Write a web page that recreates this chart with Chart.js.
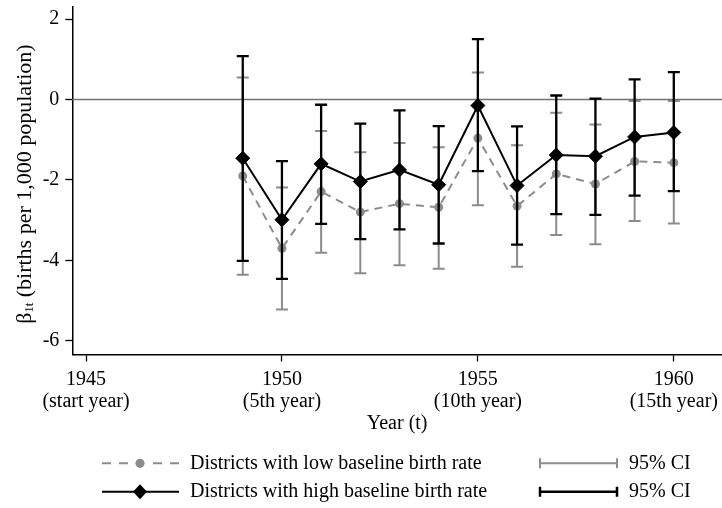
<!DOCTYPE html>
<html>
<head>
<meta charset="utf-8">
<script src="https://cdn.jsdelivr.net/npm/chart.js@4.4.0/dist/chart.umd.min.js"></script>
<style>
  html, body { margin: 0; padding: 0; background: #fff; }
  #wrap { width: 722px; height: 508px; }
</style>
</head>
<body>
<div id="wrap"><canvas id="chart" width="722" height="508"></canvas></div>
<script>
// Data
const years = [1949, 1950, 1951, 1952, 1953, 1954, 1955, 1956, 1957, 1958, 1959, 1960];

const highEst = [-1.46, -2.99, -1.60, -2.04, -1.75, -2.12, -0.15, -2.14, -1.38, -1.41, -0.93, -0.82];
const highLow = [-4.01, -4.46, -3.09, -3.47, -3.23, -3.58, -1.78, -3.61, -2.85, -2.87, -2.39, -2.28];
const highUp  = [ 1.08, -1.53, -0.13, -0.60, -0.27, -0.66,  1.50, -0.67,  0.10,  0.02,  0.50,  0.68];

const lowEst = [-1.90, -3.70, -2.29, -2.80, -2.59, -2.68, -0.96, -2.65, -1.85, -2.10, -1.54, -1.57];
const lowLow = [-4.36, -5.22, -3.81, -4.32, -4.12, -4.21, -2.63, -4.16, -3.37, -3.60, -3.02, -3.08];
const lowUp  = [ 0.55, -2.19, -0.78, -1.31, -1.08, -1.19,  0.67, -1.14, -0.33, -0.62, -0.04, -0.04];

const xTicks = [1945, 1950, 1955, 1960];
const xTickNotes = ["(start year)", "(5th year)", "(10th year)", "(15th year)"];
const yTicks = [-6, -4, -2, 0, 2];

const labelHigh = "Districts with high baseline birth rate";
const labelLow = "Districts with low baseline birth rate";

const serif = "'Liberation Serif', 'Times New Roman', Times, serif";
const grey = "#8c8c8c";

// CI bars per dataset index (0 = high, 1 = low)
const ciSets = [
  { lo: highLow, hi: highUp, color: "#000", width: 2.3 },
  { lo: lowLow, hi: lowUp, color: grey, width: 2 }
];

function drawCI(ctx, x, y1, y2, cap) {
  ctx.beginPath();
  ctx.moveTo(x, y1); ctx.lineTo(x, y2);
  ctx.moveTo(x - cap, y1); ctx.lineTo(x + cap, y1);
  ctx.moveTo(x - cap, y2); ctx.lineTo(x + cap, y2);
  ctx.stroke();
}

const extras = {
  id: "extras",
  beforeDatasetsDraw(chart) {
    // zero reference line
    const { ctx, chartArea, scales } = chart;
    const y0 = scales.y.getPixelForValue(0);
    ctx.save();
    ctx.strokeStyle = "#707070";
    ctx.lineWidth = 1.6;
    ctx.beginPath();
    ctx.moveTo(chartArea.left, y0);
    ctx.lineTo(chartArea.right, y0);
    ctx.stroke();
    ctx.restore();
  },
  beforeDatasetDraw(chart, args) {
    const ci = ciSets[args.index];
    const { ctx, scales } = chart;
    ctx.save();
    ctx.strokeStyle = ci.color;
    ctx.lineWidth = ci.width;
    years.forEach((yr, i) => {
      drawCI(ctx, scales.x.getPixelForValue(yr),
        scales.y.getPixelForValue(ci.lo[i]), scales.y.getPixelForValue(ci.hi[i]), 6);
    });
    ctx.restore();
  },
  afterDraw(chart) {
    const { ctx, chartArea } = chart;
    ctx.save();
    ctx.fillStyle = "#000";

    // y axis title with subscript
    ctx.translate(25, 184);
    ctx.rotate(-Math.PI / 2);
    ctx.textBaseline = "middle";
    const main = "22px " + serif, sub = "12.5px " + serif;
    const rest = " (births per 1,000 population)";
    ctx.font = main;
    const wBeta = ctx.measureText("β").width;
    const wRest = ctx.measureText(rest).width;
    ctx.font = sub;
    const wSub = ctx.measureText("1t").width;
    let tx = -(wBeta + wSub + wRest) / 2;
    ctx.font = main;
    ctx.textAlign = "left";
    ctx.fillText("β", tx, 0);
    tx += wBeta;
    ctx.font = sub;
    ctx.fillText("1t", tx, 5);
    tx += wSub;
    ctx.font = main;
    ctx.fillText(rest, tx, 0);
    ctx.setTransform(1, 0, 0, 1, 0, 0);

    // x axis title
    ctx.font = "20px " + serif;
    ctx.textAlign = "center";
    ctx.fillText("Year (t)", (chartArea.left + chartArea.right) / 2, 424);

    // legend
    const r1 = 463.3, r2 = 491.7;
    ctx.lineCap = "butt";
    ctx.strokeStyle = grey;
    ctx.lineWidth = 2;
    ctx.setLineDash([9, 8]);
    ctx.beginPath();
    ctx.moveTo(102, r1); ctx.lineTo(128, r1);
    ctx.moveTo(179, r1); ctx.lineTo(152, r1);
    ctx.stroke();
    ctx.setLineDash([]);
    ctx.fillStyle = grey;
    ctx.beginPath();
    ctx.arc(140, r1, 4.6, 0, Math.PI * 2);
    ctx.fill();

    ctx.strokeStyle = "#000";
    ctx.beginPath();
    ctx.moveTo(102, r2); ctx.lineTo(179, r2);
    ctx.stroke();
    ctx.fillStyle = "#000";
    ctx.beginPath();
    ctx.moveTo(133, r2); ctx.lineTo(140, r2 - 7.5); ctx.lineTo(147, r2); ctx.lineTo(140, r2 + 7.5);
    ctx.closePath();
    ctx.fill();

    ctx.textAlign = "left";
    ctx.textBaseline = "middle";
    ctx.font = "20px " + serif;
    ctx.fillText(labelLow, 190, r1);
    ctx.fillText(labelHigh, 190, r2);

    // CI legend samples
    ctx.strokeStyle = grey;
    ctx.lineWidth = 2;
    ctx.beginPath();
    ctx.moveTo(539, r1); ctx.lineTo(618, r1);
    ctx.moveTo(540, r1 - 5); ctx.lineTo(540, r1 + 5);
    ctx.moveTo(617, r1 - 5); ctx.lineTo(617, r1 + 5);
    ctx.stroke();
    ctx.strokeStyle = "#000";
    ctx.lineWidth = 2.5;
    ctx.beginPath();
    ctx.moveTo(539, r2); ctx.lineTo(618, r2);
    ctx.moveTo(540, r2 - 5); ctx.lineTo(540, r2 + 5);
    ctx.moveTo(617, r2 - 5); ctx.lineTo(617, r2 + 5);
    ctx.stroke();
    ctx.fillText("95% CI", 629, r1);
    ctx.fillText("95% CI", 629, r2);
    ctx.restore();
  }
};

const chart = new Chart(document.getElementById("chart").getContext("2d"), {
  type: "line",
  data: {
    datasets: [
      {
        label: labelHigh,
        data: years.map((yr, i) => ({ x: yr, y: highEst[i] })),
        borderColor: "#000",
        borderWidth: 2,
        backgroundColor: "#000",
        pointStyle: "rectRot",
        pointRadius: 7,
        pointBorderWidth: 1,
        tension: 0
      },
      {
        label: labelLow,
        data: years.map((yr, i) => ({ x: yr, y: lowEst[i] })),
        borderColor: grey,
        borderWidth: 2,
        borderDash: [8, 6],
        backgroundColor: grey,
        pointBorderColor: grey,
        pointStyle: "circle",
        pointRadius: 4.5,
        pointBorderWidth: 0,
        tension: 0
      }
    ]
  },
  options: {
    responsive: false,
    animation: false,
    events: [],
    layout: { autoPadding: false, padding: { top: 7, right: 0, bottom: 0, left: 0 } },
    plugins: { legend: { display: false }, tooltip: { enabled: false } },
    scales: {
      x: {
        type: "linear",
        min: 1944.65,
        max: 1961.23,
        afterBuildTicks: s => { s.ticks = xTicks.map(v => ({ value: v })); },
        afterFit: s => { s.height = 508 - 354.5; s.paddingLeft = 0; s.paddingRight = 0; },
        grid: { drawOnChartArea: false, tickLength: 7, tickColor: "#000", tickWidth: 1.3 },
        border: { color: "#000", width: 1.5 },
        ticks: {
          color: "#000",
          font: { family: serif, size: 20, lineHeight: 1.1 },
          padding: 7,
          maxRotation: 0,
          autoSkip: false,
          callback: v => [String(v), xTickNotes[xTicks.indexOf(v)]]
        }
      },
      y: {
        min: -6.34,
        max: 2.3,
        afterBuildTicks: s => { s.ticks = yTicks.map(v => ({ value: v })); },
        afterFit: s => { s.width = 72.3; s.paddingTop = 0; s.paddingBottom = 0; },
        grid: { drawOnChartArea: false, tickLength: 7, tickColor: "#000", tickWidth: 1.3 },
        border: { color: "#000", width: 1.5 },
        ticks: {
          color: "#000",
          font: { family: serif, size: 20 },
          padding: 6
        }
      }
    }
  },
  plugins: [extras]
});
</script>
</body>
</html>
